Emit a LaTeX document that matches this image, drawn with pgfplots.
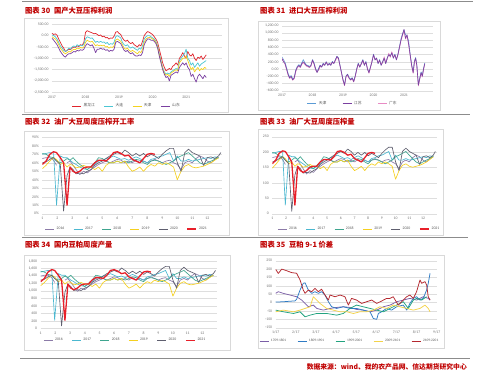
\documentclass[border=0pt]{standalone}
\usepackage{fontspec}
\setmainfont{Carlito}
\newfontfamily\cjk{Noto Sans CJK SC}
\usepackage{pgfplots}
\usepackage{pgfplotstable}
\pgfplotsset{compat=1.18}

\definecolor{ttl}{HTML}{C00000}
\definecolor{sepc}{HTML}{8C8C8C}
\definecolor{boxc}{HTML}{D9D9D9}
\definecolor{cred}{HTML}{E0242C}
\definecolor{ccyan}{HTML}{4BC6D4}
\definecolor{cyel}{HTML}{F4D21F}
\definecolor{cpur}{HTML}{7A3FA0}
\definecolor{cblue}{HTML}{5B9BD5}
\definecolor{cpink}{HTML}{E88BC4}
\definecolor{c16}{HTML}{8C7BA8}
\definecolor{c17}{HTML}{4BB8D0}
\definecolor{c18}{HTML}{3FA58F}
\definecolor{c19}{HTML}{F5D020}
\definecolor{c20}{HTML}{5F5F6F}
\definecolor{c21}{HTML}{E8202A}
\definecolor{d17}{HTML}{7B5EA7}
\definecolor{d18}{HTML}{2F7BC4}
\definecolor{d19}{HTML}{22A37F}
\definecolor{d20}{HTML}{F3D34A}
\definecolor{d21}{HTML}{B4272E}

\pgfplotsset{
  base/.style={
    scale only axis, anchor=south west,
    axis line style={draw=none},
    major tick length=0pt,
    ymajorgrids, grid style={draw=black!13, line width=0.4pt},
    tick label style={font=\fontsize{3.8}{4.3}\selectfont, text=black!55},
    /pgf/number format/assume math mode=true,
    legend style={draw=none, fill=none, font=\fontsize{3.8}{4.3}\selectfont, text=black!65,
      legend columns=-1, anchor=center,
      /tikz/every even column/.append style={column sep=7pt}},
    legend image code/.code={\draw[#1] (0pt,0pt) -- (9pt,0pt);},
    unbounded coords=jump,
    every axis plot/.append style={line join=round, mark=none},
  },
}

% ---------- Panel 30 ----------
\pgfplotstableread{
x hlj dl tj sd
2017.00 100 30 -50 -120
2017.05 50 0 -100 -200
2017.10 80 -50 -150 -300
2017.15 20 -150 -250 -400
2017.20 -150 -300 -400 -550
2017.25 -300 -450 -550 -700
2017.30 -450 -550 -650 -800
2017.35 -550 -650 -750 -900
2017.40 -700 -700 -800 -950
2017.45 -650 -650 -750 -850
2017.50 -600 -550 -700 -800
2017.55 -620 -600 -720 -800
2017.60 -550 -500 -650 -750
2017.65 -500 -450 -600 -700
2017.70 -520 -500 -620 -720
2017.75 -450 -400 -550 -650
2017.80 -480 -450 -580 -680
2017.85 -400 -420 -520 -620
2017.90 -430 -450 -550 -650
2017.95 -300 -380 -500 -600
2018.00 150 -150 -300 -450
2018.05 220 -50 -200 -350
2018.10 180 -80 -250 -400
2018.15 150 -120 -280 -450
2018.20 120 -100 -250 -400
2018.25 80 -200 -350 -550
2018.30 100 -300 -450 -750
2018.35 50 -250 -400 -600
2018.40 0 -300 -450 -600
2018.45 30 -250 -420 -550
2018.50 -50 -300 -450 -600
2018.55 -20 -280 -420 -580
2018.60 -100 -350 -500 -650
2018.65 -80 -300 -480 -620
2018.70 -150 -400 -550 -700
2018.75 -100 -350 -500 -650
2018.80 -120 -380 -520 -680
2018.85 -30 -300 -450 -600
2018.90 150 -50 -200 -300
2018.95 180 0 -150 -250
2019.00 100 -50 -200 -300
2019.05 50 -100 -250 -350
2019.10 -100 -300 -400 -500
2019.15 -200 -400 -550 -650
2019.20 -250 -450 -600 -700
2019.25 -200 -400 -550 -650
2019.30 -300 -500 -650 -750
2019.35 -350 -550 -700 -800
2019.40 -300 -500 -650 -750
2019.45 -400 -550 -700 -850
2019.50 -450 -600 -750 -900
2019.55 -500 -650 -800 -900
2019.60 -400 -550 -700 -850
2019.65 -450 -600 -750 -880
2019.70 -250 -450 -600 -750
2019.75 0 -150 -300 -400
2019.80 100 -50 -150 -250
2019.85 180 0 -100 -150
2019.90 150 0 -80 -150
2019.95 100 -50 -100 -200
2020.00 50 -100 -150 -200
2020.05 -50 -150 -200 -250
2020.10 -150 -250 -300 -350
2020.15 -300 -450 -500 -550
2020.20 -600 -800 -850 -900
2020.25 -900 -1100 -1150 -1200
2020.30 -1200 -1400 -1450 -1500
2020.35 -1400 -1600 -1650 -1700
2020.40 -1550 -1700 -1750 -1850
2020.45 -1500 -1650 -1700 -1800
2020.50 -1450 -1700 -1800 -2000
2020.55 -1500 -1600 -1650 -1750
2020.60 -1350 -1550 -1600 -1700
2020.65 -1300 -1500 -1550 -1650
2020.70 -1200 -1450 -1500 -1600
2020.75 -1300 -1500 -1550 -1650
2020.80 -1000 -1100 -1200 -1400
2020.85 -900 -1000 -1100 -1300
2020.90 -750 -900 -1000 -1200
2020.95 -900 -800 -1000 -1300
2021.00 -1000 -600 -900 -1200
2021.05 -700 -1000 -1100 -1400
2021.10 -850 -1100 -1300 -1500
2021.15 -900 -1300 -1500 -1800
2021.20 -800 -1200 -1400 -1700
2021.25 -1000 -1400 -1600 -1900
2021.30 -1100 -1300 -1500 -2050
2021.35 -950 -1200 -1400 -1800
2021.40 -1000 -1350 -1550 -1700
2021.45 -900 -1250 -1450 -1800
2021.50 -1050 -1200 -1500 -1900
2021.55 -950 -1150 -1400 -1750
2021.60 -850 -1100 -1450 -1850
}\tblA

% ---------- Panel 31 ----------
\pgfplotstableread{
x js tj gd
2017.00 280 330 300
2017.05 200 260 220
2017.10 150 180 130
2017.15 0 40 -20
2017.20 -150 -120 -170
2017.25 -250 -220 -260
2017.30 -200 -180 -230
2017.35 -300 -270 -310
2017.40 -250 -240 -270
2017.45 -50 -30 -80
2017.50 50 70 30
2017.55 100 120 80
2017.60 50 80 40
2017.65 150 180 130
2017.70 200 260 180
2017.75 150 170 120
2017.80 100 110 80
2017.85 80 100 60
2017.90 50 70 40
2017.95 100 110 80
2018.00 250 260 230
2018.05 150 170 130
2018.10 0 20 -30
2018.15 -100 -80 -70
2018.20 0 20 -40
2018.25 100 110 60
2018.30 50 60 80
2018.35 150 160 110
2018.40 100 110 140
2018.45 200 200 160
2018.50 100 110 140
2018.55 150 160 120
2018.60 100 110 150
2018.65 200 210 170
2018.70 150 160 190
2018.75 250 260 220
2018.80 350 350 330
2018.85 300 310 280
2018.90 100 110 90
2018.95 -100 -90 -110
2019.00 -300 -290 -320
2019.05 -450 -430 -460
2019.10 -200 -190 -220
2019.15 -150 -140 -180
2019.20 -250 -240 -260
2019.25 -300 -280 -310
2019.30 -250 -240 -270
2019.35 -350 -330 -360
2019.40 -200 -190 -220
2019.45 0 10 -20
2019.50 150 160 120
2019.55 50 60 80
2019.60 150 160 130
2019.65 250 260 220
2019.70 100 110 140
2019.75 200 210 170
2019.80 0 10 40
2019.85 -100 -90 -120
2019.90 50 60 20
2019.95 200 210 240
2020.00 400 410 370
2020.05 250 260 290
2020.10 300 310 270
2020.15 150 160 190
2020.20 250 260 220
2020.25 100 110 140
2020.30 200 210 170
2020.35 300 310 340
2020.40 150 160 190
2020.45 300 310 270
2020.50 400 410 440
2020.55 350 360 320
2020.60 450 460 480
2020.65 300 310 340
2020.70 400 410 370
2020.75 250 260 290
2020.80 400 410 380
2020.85 600 620 580
2020.90 800 830 780
2020.95 950 980 930
2021.00 1100 1080 1050
2021.05 850 950 830
2021.10 950 900 920
2021.15 700 780 680
2021.20 400 420 380
2021.25 100 120 80
2021.30 -100 -80 -120
2021.34 200 220 180
2021.38 300 320 280
2021.42 100 120 80
2021.47 -450 -420 -470
2021.52 -250 -230 -270
2021.56 -100 -80 -120
2021.60 -200 -180 -220
2021.64 0 20 -20
2021.68 150 170 130
}\tblB

% ---------- Panel 32 ----------
\pgfplotstableread{
x a b c d e f
1.00 65 70 71 53 60 58
1.25 66 71 70 57 61 62
1.50 66 72 67 62 64 70
1.75 63 72 66 66 66 73
1.95 57 10 62 64 62 72
2.20 nan 68 60 58 58 66
2.42 nan 66 62 60 3 60
2.65 60 66 65 55 45 10
2.85 62 63 63 58 55 55
3.05 57 60 66 57 52 50
3.25 52 58 62 54 47 48
3.50 46 55 58 55 48 50
3.75 50 53 55 57 47 54
4.00 48 52 52 55 50 55
4.25 52 55 56 55 52 55
4.50 55 58 60 52 57 60
4.75 58 62 66 55 60 63
5.00 60 63 65 50 62 63
5.25 62 65 62 57 65 62
5.50 60 66 60 60 68 66
5.75 62 68 60 60 70 72
6.00 64 66 62 62 72 73
6.25 63 64 60 60 70 71
6.50 60 65 62 62 75 68
6.75 62 63 60 55 72 69
7.00 60 65 62 50 68 64
7.25 63 67 64 52 71 62
7.50 60 65 63 55 68 60
7.75 62 62 60 50 71 65
8.00 60 60 58 55 67 70
8.25 62 64 62 58 70 71
8.50 64 65 63 56 68 70
8.75 62 67 62 60 65 nan
9.00 60 68 60 58 70 nan
9.25 62 70 58 60 74 nan
9.50 63 72 60 58 77 nan
9.75 60 62 62 55 77 nan
10.00 58 68 66 40 60 nan
10.25 52 62 68 50 50 nan
10.50 60 62 70 56 72 nan
10.75 62 64 72 58 76 nan
11.00 60 62 68 55 72 nan
11.25 65 63 64 54 70 nan
11.50 68 64 60 55 68 nan
11.75 66 65 58 56 57 nan
12.00 62 66 60 58 66 nan
12.25 60 65 62 60 67 nan
12.50 64 67 64 63 65 nan
12.75 66 66 66 66 68 nan
12.90 nan nan nan nan 72 nan
}\tblC

% ---------- Panel 33 ----------
\pgfplotstableread{
x a b c d e f
1.00 182 196 199 148 168 162
1.25 185 199 196 160 171 174
1.50 185 202 188 174 179 196
1.75 176 202 185 185 185 204
1.95 160 28 174 179 174 202
2.20 nan 190 168 162 162 185
2.42 nan 185 174 168 8 168
2.65 168 185 182 154 126 28
2.85 174 176 176 162 154 154
3.05 160 168 185 160 146 140
3.25 146 162 174 151 132 134
3.50 129 154 162 154 134 140
3.75 140 148 154 160 132 151
4.00 134 146 146 154 140 154
4.25 146 154 157 154 146 154
4.50 154 162 168 146 160 168
4.75 162 174 185 154 168 176
5.00 168 176 182 140 174 176
5.25 174 182 174 160 182 174
5.50 168 185 168 168 190 185
5.75 174 190 168 168 196 202
6.00 179 185 174 174 202 204
6.25 176 179 168 168 196 199
6.50 168 182 174 174 210 190
6.75 174 176 168 154 202 193
7.00 168 182 174 140 190 179
7.25 176 188 179 146 199 174
7.50 168 182 176 154 190 168
7.75 174 174 168 140 199 182
8.00 168 168 162 154 188 196
8.25 174 179 174 162 196 199
8.50 179 182 176 157 190 196
8.75 174 188 174 168 182 nan
9.00 168 190 168 162 196 nan
9.25 174 196 162 168 207 nan
9.50 176 202 168 162 216 nan
9.75 168 174 174 154 216 nan
10.00 162 190 185 112 168 nan
10.25 146 174 190 140 140 nan
10.50 168 174 196 157 202 nan
10.75 174 179 202 162 213 nan
11.00 168 174 190 154 202 nan
11.25 182 176 179 151 196 nan
11.50 190 179 168 154 190 nan
11.75 185 182 162 157 160 nan
12.00 174 185 168 162 185 nan
12.25 168 182 174 168 188 nan
12.50 179 188 179 176 182 nan
12.75 185 185 185 185 190 nan
12.90 nan nan nan nan 202 nan
}\tblD

% ---------- Panel 34 ----------
\pgfplotstableread{
x a b c d e f
1.00 1398 1505 1527 1140 1290 1247
1.25 1419 1527 1505 1226 1312 1333
1.50 1419 1548 1441 1333 1376 1505
1.75 1355 1548 1419 1419 1419 1570
1.95 1226 215 1333 1376 1333 1548
2.20 nan 1462 1290 1247 1247 1419
2.42 nan 1419 1333 1290 65 1290
2.65 1290 1419 1398 1183 968 215
2.85 1333 1355 1355 1247 1183 1183
3.05 1226 1290 1419 1226 1118 1075
3.25 1118 1247 1333 1161 1011 1032
3.50 989 1183 1247 1183 1032 1075
3.75 1075 1140 1183 1226 1011 1161
4.00 1032 1118 1118 1183 1075 1183
4.25 1118 1183 1204 1183 1118 1183
4.50 1183 1247 1290 1118 1226 1290
4.75 1247 1333 1419 1183 1290 1355
5.00 1290 1355 1398 1075 1333 1355
5.25 1333 1398 1333 1226 1398 1333
5.50 1290 1419 1290 1290 1462 1419
5.75 1333 1462 1290 1290 1505 1548
6.00 1376 1419 1333 1333 1548 1570
6.25 1355 1376 1290 1290 1505 1527
6.50 1290 1398 1333 1333 1613 1462
6.75 1333 1355 1290 1183 1548 1484
7.00 1290 1398 1333 1075 1462 1376
7.25 1355 1441 1376 1118 1527 1333
7.50 1290 1398 1355 1183 1462 1290
7.75 1333 1333 1290 1075 1527 1398
8.00 1290 1290 1247 1183 1441 1505
8.25 1333 1376 1333 1247 1505 1527
8.50 1376 1398 1355 1204 1462 1505
8.75 1333 1441 1333 1290 1398 nan
9.00 1290 1462 1290 1247 1505 nan
9.25 1333 1505 1247 1290 1591 nan
9.50 1355 1548 1290 1247 1656 nan
9.75 1290 1333 1333 1183 1656 nan
10.00 1247 1462 1419 860 1290 nan
10.25 1118 1333 1462 1075 1075 nan
10.50 1290 1333 1505 1204 1548 nan
10.75 1333 1376 1548 1247 1634 nan
11.00 1290 1333 1462 1183 1548 nan
11.25 1398 1355 1376 1161 1505 nan
11.50 1462 1376 1290 1183 1462 nan
11.75 1419 1398 1247 1204 1226 nan
12.00 1333 1419 1290 1247 1419 nan
12.25 1290 1398 1333 1290 1441 nan
12.50 1376 1441 1376 1355 1398 nan
12.75 1419 1419 1419 1419 1462 nan
12.90 nan nan nan nan 1548 nan
}\tblE

\begin{document}
\begin{tikzpicture}
\useasboundingbox (0pt,0pt) rectangle (499pt,-378pt);
\fill[white] (0pt,0pt) rectangle (499pt,-378pt);

% separators
\draw[sepc, line width=0.8pt] (22pt,-1.5pt) -- (473pt,-1.5pt);
\draw[sepc, line width=0.8pt] (22pt,-114.5pt) -- (470pt,-114.5pt);
\draw[sepc, line width=0.8pt] (22pt,-237pt) -- (468pt,-237pt);
\draw[sepc, line width=0.8pt] (20pt,-358pt) -- (470pt,-358pt);

% panel boxes
\draw[boxc, line width=0.6pt] (24pt,-18pt) rectangle (228pt,-112pt);
\draw[boxc, line width=0.6pt] (258pt,-21pt) rectangle (440pt,-110pt);
\draw[boxc, line width=0.6pt] (24pt,-131pt) rectangle (229pt,-235pt);
\draw[boxc, line width=0.6pt] (258pt,-129pt) rectangle (443pt,-235pt);
\draw[boxc, line width=0.6pt] (24pt,-255pt) rectangle (230pt,-350pt);
\draw[boxc, line width=0.6pt] (258pt,-255pt) rectangle (444pt,-348pt);

% titles
\tikzset{ttlstyle/.style={anchor=west, text=ttl, inner sep=0pt, font=\cjk\bfseries\fontsize{7.3}{8}\selectfont}}
\node[ttlstyle] at (25pt,-11pt) {图表 30\enspace 国产大豆压榨利润};
\node[ttlstyle] at (260pt,-11pt) {图表 31\enspace 进口大豆压榨利润};
\node[ttlstyle] at (25pt,-122pt) {图表 32\enspace 油厂大豆周度压榨开工率};
\node[ttlstyle] at (260pt,-122pt) {图表 33\enspace 油厂大豆周度压榨量};
\node[ttlstyle] at (25pt,-245pt) {图表 34\enspace 国内豆粕周度产量};
\node[ttlstyle] at (260pt,-245pt) {图表 35\enspace 豆粕 9-1 价差};
\node[anchor=east, text=ttl, inner sep=0pt, font=\cjk\bfseries\fontsize{6.8}{8}\selectfont] at (467pt,-367pt) {数据来源：wind、我的农产品网、信达期货研究中心};

% ---- Panel 30 ----
\begin{axis}[base, at={(52pt,-92.3pt)}, width=170pt, height=68pt,
  xmin=2017, xmax=2022.07, ymin=-2500, ymax=500,
  xtick={2017,2018,2019,2020,2021}, xticklabels={2017,2018,2019,2020,2021},
  ytick={-2500,-2000,-1500,-1000,-500,0,500},
  yticklabels={{-2,500.00},{-2,000.00},{-1,500.00},{-1,000.00},{-500.00},{0.00},{500.00}},
  legend style={at={(0.44,-0.2)}, font=\cjk\fontsize{3.8}{4.3}\selectfont}]
\addplot[cred, line width=0.7pt] table[x=x,y=hlj]{\tblA};
\addplot[ccyan, line width=0.7pt] table[x=x,y=dl]{\tblA};
\addplot[cyel, line width=0.7pt] table[x=x,y=tj]{\tblA};
\addplot[cpur, line width=0.7pt] table[x=x,y=sd]{\tblA};
\legend{黑龙江,大连,天津,山东}
\end{axis}

% ---- Panel 31 ----
\begin{axis}[base, at={(282pt,-90.7pt)}, width=151pt, height=65pt,
  xmin=2017, xmax=2021.95, ymin=-600, ymax=1200,
  xtick={2017,2018,2019,2020,2021}, xticklabels={2017,2018,2019,2020,2021},
  ytick={-600,-400,-200,0,200,400,600,800,1000,1200},
  yticklabels={{-600.00},{-400.00},{-200.00},{0.00},{200.00},{400.00},{600.00},{800.00},{1,000.00},{1,200.00}},
  legend style={at={(0.47,-0.2)}, font=\cjk\fontsize{3.8}{4.3}\selectfont,
    /tikz/every even column/.append style={column sep=14pt}}]
\addlegendimage{cblue, line width=0.6pt}
\addlegendimage{cpur, line width=0.6pt}
\addlegendimage{cpink, line width=0.6pt}
\addplot[cblue, line width=0.6pt, forget plot] table[x=x,y=tj]{\tblB};
\addplot[cpink, line width=0.6pt, forget plot] table[x=x,y=gd]{\tblB};
\addplot[cpur, line width=0.6pt, forget plot] table[x=x,y=js]{\tblB};
\legend{天津,江苏,广东}
\end{axis}

% ---- Panel 32 ----
\begin{axis}[base, at={(42.3pt,-213.7pt)}, width=180pt, height=76.4pt,
  xmin=1, xmax=13, ymin=0, ymax=90,
  xtick={1,...,12}, ytick={0,10,...,90},
  yticklabels={0\%,10\%,20\%,30\%,40\%,50\%,60\%,70\%,80\%,90\%},
  legend style={at={(0.47,-0.2)}}]
\addplot[c16, line width=0.65pt] table[x=x,y=a]{\tblC};
\addplot[c17, line width=0.65pt] table[x=x,y=b]{\tblC};
\addplot[c18, line width=0.65pt] table[x=x,y=c]{\tblC};
\addplot[c19, line width=0.65pt] table[x=x,y=d]{\tblC};
\addplot[c20, line width=0.65pt] table[x=x,y=e]{\tblC};
\addplot[c21, line width=1.3pt] table[x=x,y=f]{\tblC};
\legend{2016,2017,2018,2019,2020,2021}
\end{axis}

% ---- Panel 33 ----
\begin{axis}[base, at={(272.3pt,-213.7pt)}, width=164.4pt, height=77pt,
  xmin=1, xmax=13, ymin=0, ymax=250,
  xtick={1,...,12}, ytick={0,50,...,250},
  legend style={at={(0.53,-0.2)}}]
\addplot[c16, line width=0.65pt] table[x=x,y=a]{\tblD};
\addplot[c17, line width=0.65pt] table[x=x,y=b]{\tblD};
\addplot[c18, line width=0.65pt] table[x=x,y=c]{\tblD};
\addplot[c19, line width=0.65pt] table[x=x,y=d]{\tblD};
\addplot[c20, line width=0.65pt] table[x=x,y=e]{\tblD};
\addplot[c21, line width=1.3pt] table[x=x,y=f]{\tblD};
\legend{2016,2017,2018,2019,2020,2021}
\end{axis}

% ---- Panel 34 ----
\begin{axis}[base, at={(40.7pt,-328.3pt)}, width=176.3pt, height=67.3pt,
  xmin=1, xmax=13, ymin=0, ymax=1800,
  xtick={1,...,12}, ytick={0,200,...,1800},
  yticklabels={0,200,400,600,800,{1,000},{1,200},{1,400},{1,600},{1,800}},
  legend style={at={(0.48,-0.18)}}]
\addplot[c16, line width=0.65pt] table[x=x,y=a]{\tblE};
\addplot[c17, line width=0.65pt] table[x=x,y=b]{\tblE};
\addplot[c18, line width=0.65pt] table[x=x,y=c]{\tblE};
\addplot[c19, line width=0.65pt] table[x=x,y=d]{\tblE};
\addplot[c20, line width=0.65pt] table[x=x,y=e]{\tblE};
\addplot[c21, line width=1.3pt] table[x=x,y=f]{\tblE};
\legend{2016,2017,2018,2019,2020,2021}
\end{axis}

% ---- Panel 35 ----
\begin{axis}[base, at={(275.7pt,-327.7pt)}, width=161pt, height=67pt,
  xmin=0, xmax=8, ymin=-150, ymax=250,
  xtick={0,...,8}, xticklabels={1/17,2/17,3/17,4/17,5/17,6/17,7/17,8/17,9/17},
  ytick={-150,-100,...,250},
  legend style={at={(0.46,-0.2)}, font=\fontsize{3.5}{4}\selectfont,
    /tikz/every even column/.append style={column sep=9pt}}]
\addplot[d17, line width=0.75pt] coordinates {(0,55)(0.13,65)(0.38,55)(0.71,45)(1.04,35)(1.29,15)(1.46,-5)(1.62,-25)(1.87,-15)(2.04,-35)(2.37,-45)(2.70,-35)(3.03,-29)(3.36,-25)(3.69,-29)(4.02,-41)(4.35,-45)(4.69,-55)(5.02,-45)(5.35,-25)(5.68,-15)(6.01,5)(6.34,15)(6.67,25)(7.00,15)(7.33,35)(7.58,25)(7.67,15)};
\addplot[d18, line width=0.75pt] coordinates {(0,3)(0.38,5)(0.71,8)(0.96,10)(1.04,20)(1.21,75)(1.37,115)(1.46,118)(1.62,75)(1.79,55)(1.95,65)(2.12,55)(2.28,65)(2.45,45)(2.62,5)(2.78,-25)(3.03,-35)(3.36,-25)(3.69,-35)(4.02,-35)(4.35,-45)(4.69,-55)(4.85,-95)(5.02,-100)(5.10,-65)(5.26,-55)(5.51,-35)(5.76,-45)(6.01,-25)(6.34,-15)(6.51,-45)(6.67,-5)(6.84,25)(7.00,35)(7.17,15)(7.33,25)(7.50,75)(7.58,115)(7.67,175)};
\addplot[d19, line width=0.75pt] coordinates {(0,-45)(0.38,-55)(0.88,-65)(1.21,-55)(1.46,-85)(1.71,-75)(2.04,-65)(2.53,-65)(3.03,-75)(3.36,-65)(3.69,-35)(4.02,-15)(4.35,-25)(4.69,-35)(5.02,-45)(5.35,-55)(5.68,-35)(6.01,-15)(6.34,5)(6.59,-35)(6.84,15)(7.00,25)(7.25,15)(7.50,35)};
\addplot[d20, line width=0.75pt] coordinates {(0,-55)(0.38,-45)(0.88,-55)(1.21,-45)(1.46,-35)(1.71,-25)(1.87,35)(2.04,15)(2.20,-5)(2.53,-35)(2.86,-45)(3.20,-55)(3.53,-55)(3.86,-65)(4.19,-55)(4.52,-55)(4.85,-45)(5.18,-25)(5.51,-35)(5.84,-15)(6.18,-25)(6.51,-35)(6.84,-45)(7.17,-35)(7.42,-15)(7.58,-35)(7.67,-55)};
\addplot[d21, line width=0.75pt] coordinates {(0,198)(0.13,174)(0.30,200)(0.55,190)(0.79,179)(1.04,175)(1.21,135)(1.37,75)(1.46,55)(1.62,75)(1.79,65)(1.95,85)(2.12,65)(2.28,80)(2.45,45)(2.62,15)(2.70,45)(2.95,35)(3.20,45)(3.44,35)(3.61,-15)(3.77,25)(4.02,15)(4.27,-5)(4.52,5)(4.77,15)(5.02,-5)(5.26,9)(5.51,25)(5.68,25)(5.84,35)(6.09,-15)(6.26,5)(6.51,35)(6.67,45)(6.84,25)(7.00,65)(7.17,135)(7.25,115)(7.42,125)(7.50,105)(7.58,35)(7.67,15)};
\legend{1709-1801,1809-1901,1909-2001,2009-2101,2109-2201}
\end{axis}
\end{tikzpicture}
\end{document}
